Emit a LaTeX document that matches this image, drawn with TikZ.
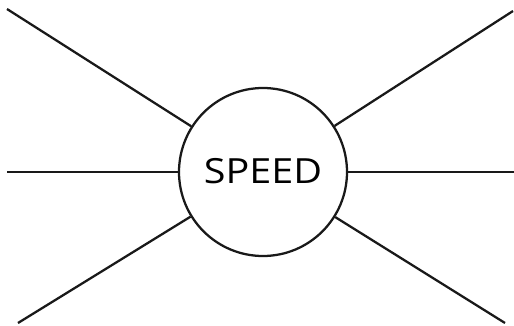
\documentclass[tikz,border=0pt]{standalone}
\usepackage{fontspec}
\setmainfont{Open Sans}
\begin{document}
\begin{tikzpicture}[x=0.75pt,y=-0.75pt,
  spoke/.style={line width=1.7pt,black!90},
  hub/.style={circle,draw=black!90,line width=1.7pt,minimum size=126pt,inner sep=0pt,
    font=\fontsize{26}{30}\selectfont}]
\useasboundingbox (0,0) rectangle (514,325);
\node[hub] (c) at (263,172) {\raisebox{1pt}{\scalebox{1.14}[1]{SPEED}}};
\coordinate (tl) at (7,9);
\coordinate (tr) at (513,11);
\coordinate (l) at (7,172);
\coordinate (r) at (514,172);
\coordinate (bl) at (18,323);
\coordinate (br) at (505,323);
\foreach \p in {tl,tr,l,r,bl,br} \draw[spoke] (\p) -- (c);
\end{tikzpicture}
\end{document}
